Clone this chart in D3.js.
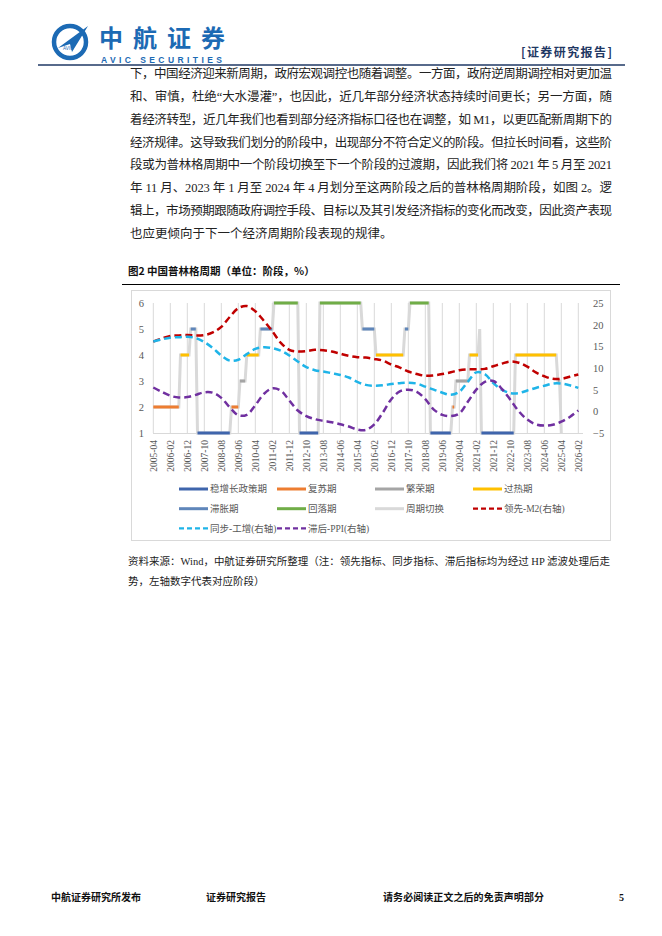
<!DOCTYPE html>
<html>
<head>
<meta charset="utf-8">
<script src="https://cdn.jsdelivr.net/npm/d3@7"></script>
<style>
  body { margin: 0; background: #fff; }
  svg { display: block; }
</style>
</head>
<body>
<script>
// ---- data ----
const xLabels = ["2005-04","2006-02","2006-12","2007-10","2008-08","2009-06","2010-04","2011-02",
  "2011-12","2012-10","2013-08","2014-06","2015-04","2016-02","2016-12","2017-10","2018-08",
  "2019-06","2020-04","2021-02","2021-12","2022-10","2023-08","2024-06","2025-04","2026-02"];

// phase runs: month where a phase starts, and the phase number (1..6)
const phaseStart = ["2005-04","2006-08","2007-02","2007-06","2009-02","2009-07","2009-11","2010-07",
  "2011-03","2012-06","2013-06","2015-07","2016-03","2017-08","2017-11","2018-11","2019-12",
  "2020-02","2020-10","2021-04","2021-05","2023-01","2025-02","2025-04"];
const phaseValue = [2,4,5,1,2,3,4,5,6,1,6,5,4,5,6,1,2,3,4,5,1,4,3,1];
const phaseLast = "2025-04";

// right-axis curves, read every 5 months from 2005-04
const m2 = [16.1,16.8,17.4,17.5,17.6,17.5,17.6,18.2,19.5,21.8,23.8,24.3,23.1,20.9,18.5,15.8,14.2,
  13.8,13.9,14.2,14.1,13.8,13.3,12.8,12.5,12.4,12.1,11.7,10.8,10.1,9.2,8.6,8.2,8.3,8.6,9.0,9.5,
  9.7,9.7,9.8,10.4,11.0,11.5,11.2,10.3,9.0,8.1,7.5,7.5,8.0,8.5];
const ip = [16.1,16.6,17.0,17.1,17.2,16.9,16.0,14.6,12.9,11.7,11.9,13.2,14.4,14.8,14.6,14.0,12.9,
  11.5,10.2,9.5,9.2,8.8,8.4,7.8,6.8,6.1,5.9,6.0,6.3,6.5,6.6,6.4,5.7,5.0,4.3,3.8,4.5,6.8,9.0,
  8.6,6.5,5.0,4.2,4.2,4.8,5.4,5.9,6.4,6.4,6.0,5.4];
const ppi = [5.5,4.5,3.6,3.2,3.3,3.8,4.4,4.3,3.1,0.9,-0.9,-0.8,1.4,4.0,5.3,4.8,2.5,0.2,-1.1,-1.8,
  -2.2,-2.5,-3.0,-3.5,-4.2,-4.3,-3.0,-0.3,2.8,4.6,5.0,4.5,2.8,0.4,-0.8,-1.1,-0.5,2.2,5.0,6.8,
  7.0,5.2,2.7,0.0,-1.9,-3.0,-3.3,-3.1,-2.4,-1.3,0.2];

const phaseNames = ["稳增长政策期","复苏期","繁荣期","过热期","滞胀期","回落期"];
const phaseColors = ["#3F65AC","#ED7D31","#A5A5A5","#FFC000","#5F86BA","#70AD47"];

const bodyLines = [
  "下，中国经济迎来新周期，政府宏观调控也随着调整。一方面，政府逆周期调控相对更加温",
  "和、审慎，杜绝“大水漫灌”，也因此，近几年部分经济状态持续时间更长；另一方面，随",
  "着经济转型，近几年我们也看到部分经济指标口径也在调整，如 M1，以更匹配新周期下的",
  "经济规律。这导致我们划分的阶段中，出现部分不符合定义的阶段。但拉长时间看，这些阶",
  "段或为普林格周期中一个阶段切换至下一个阶段的过渡期，因此我们将 2021 年 5 月至 2021",
  "年 11 月、2023 年 1 月至 2024 年 4 月划分至这两阶段之后的普林格周期阶段，如图 2。逻",
  "辑上，市场预期跟随政府调控手段、目标以及其引发经济指标的变化而改变，因此资产表现",
  "也应更倾向于下一个经济周期阶段表现的规律。"
];

const serif = "'Liberation Serif','Noto Sans CJK SC',serif";
const cjk = "'Noto Sans CJK SC',sans-serif";

let width = 662, height = 936;
let svg = d3.select("body").append("svg")
  .attr("width", width)
  .attr("height", height);

// ---- page header ----
let logo = svg.append("g");
logo.append("circle").attr("cx", 70).attr("cy", 42).attr("r", 16)
  .attr("fill", "none").attr("stroke", "#1C6AB4").attr("stroke-width", 4.5);
logo.append("path")
  .attr("d", "M58,48 L88,26 L72,52 L70,44 Z")
  .attr("fill", "#1C6AB4");
logo.append("text").attr("x", 63).attr("y", 50).attr("font-size", 4.5)
  .attr("font-family", "Liberation Sans").attr("fill", "#1C6AB4").text("AVIC");
svg.append("text").attr("x", 99).attr("y", 47)
  .attr("font-family", cjk).attr("font-weight", "bold").attr("font-size", 24)
  .attr("textLength", 126).attr("fill", "#1C6AB4").text("中航证券");
svg.append("text").attr("x", 101).attr("y", 63)
  .attr("font-family", "'Liberation Sans',sans-serif").attr("font-weight", "bold").attr("font-size", 8.5)
  .attr("textLength", 121).attr("fill", "#1C6AB4").text("AVIC SECURITIES");
svg.append("text").attr("x", 521).attr("y", 57)
  .attr("font-family", cjk).attr("font-weight", "bold").attr("font-size", 12)
  .attr("textLength", 91).attr("fill", "#1F3864").text("[证券研究报告]");
svg.append("line").attr("x1", 38).attr("x2", 625).attr("y1", 65).attr("y2", 65)
  .attr("stroke", "#1F3864").attr("stroke-width", 1.5);

// ---- body paragraph ----
svg.append("g").selectAll("text")
  .data(bodyLines)
  .enter()
  .append("text")
  .attr("x", 130)
  .attr("y", (d, i) => 78 + i * 22.86)
  .attr("font-family", serif)
  .attr("font-size", 12.5)
  .attr("fill", "#222")
  .attr("textLength", (d, i) => i < bodyLines.length - 1 ? 482 : null)
  .attr("lengthAdjust", "spacing")
  .text(d => d);

// ---- chart title ----
svg.append("text").attr("x", 128).attr("y", 275)
  .attr("font-family", cjk).attr("font-weight", "bold").attr("font-size", 10.5)
  .attr("fill", "#111").text("图2  中国普林格周期（单位：阶段，%）");
svg.append("line").attr("x1", 122).attr("x2", 620).attr("y1", 284.5).attr("y2", 284.5)
  .attr("stroke", "#000").attr("stroke-width", 1);

// chart frame
svg.append("rect").attr("x", 131.5).attr("y", 290.5).attr("width", 479).attr("height", 250)
  .attr("fill", "#fff").attr("stroke", "#D9D9D9").attr("stroke-width", 1);

// ---- scales ----
let fmt = d3.timeFormat("%Y-%m");
let months = d3.timeMonth.range(new Date(2005, 3, 1), new Date(2026, 2, 1)).map(fmt);

let x = d3.scalePoint().domain(months).range([153.3, 578.3]);
let yL = d3.scaleLinear().domain([1, 6]).range([433, 303]);
let yR = d3.scaleLinear().domain([-5, 25]).range([433, 303]);

// vertical gridlines at every label
svg.append("g").selectAll("line")
  .data(xLabels)
  .enter()
  .append("line")
  .attr("x1", d => x(d)).attr("x2", d => x(d))
  .attr("y1", 303).attr("y2", 433)
  .attr("stroke", "#D9D9D9").attr("stroke-width", 1);
svg.append("line").attr("x1", 153).attr("x2", 583).attr("y1", 433.5).attr("y2", 433.5)
  .attr("stroke", "#D9D9D9");

// axes
let axL = svg.append("g").attr("transform", "translate(153,0)")
  .call(d3.axisLeft(yL).ticks(6).tickSize(0).tickPadding(9));
let axR = svg.append("g").attr("transform", "translate(583,0)")
  .call(d3.axisRight(yR).tickValues(d3.range(-5, 26, 5)).tickSize(0).tickPadding(10));
let axB = svg.append("g").attr("transform", "translate(0,433)")
  .call(d3.axisBottom(x).tickValues(xLabels).tickSize(0));
[axL, axR, axB].forEach(a => {
  a.select(".domain").remove();
  a.selectAll("text").attr("font-family", serif).attr("fill", "#595959");
});
axL.selectAll("text").attr("font-size", 10.5);
axR.selectAll("text").attr("font-size", 10.5);
axB.selectAll("text")
  .attr("font-size", 9.5)
  .attr("transform", "rotate(-90)")
  .attr("text-anchor", "end")
  .attr("x", -7)
  .attr("y", 0)
  .attr("dy", "0.33em");

// ---- phase series ----
let phaseMonths = months.slice(0, months.indexOf(phaseLast) + 1);
let phase = phaseMonths.map(m => {
  let k = d3.bisectRight(phaseStart, m) - 1;
  return { m: m, v: phaseValue[k] };
});

// cycle switch line (under the coloured runs)
let stepLine = d3.line().x(d => x(d.m)).y(d => yL(d.v));
svg.append("path")
  .attr("d", stepLine(phase))
  .attr("fill", "none")
  .attr("stroke", "#D9D9D9")
  .attr("stroke-width", 3);

phaseNames.forEach((name, i) => {
  let p = i + 1;
  let runLine = d3.line().defined(d => d.v === p).x(d => x(d.m)).y(d => yL(d.v));
  svg.append("path")
    .attr("d", runLine(phase))
    .attr("fill", "none")
    .attr("stroke", phaseColors[i])
    .attr("stroke-width", 3.2);
});

// ---- right-axis curves ----
let curveMonths = months.filter((d, i) => i % 5 === 0);
let curves = [
  { name: "领先-M2(右轴)", values: m2, color: "#C00000" },
  { name: "同步-工增(右轴)", values: ip, color: "#1FB4E8" },
  { name: "滞后-PPI(右轴)", values: ppi, color: "#7030A0" }
];
let smooth = d3.line()
  .x((d, i) => x(curveMonths[i]))
  .y(d => yR(d))
  .curve(d3.curveCatmullRom);
curves.forEach(c => {
  svg.append("path")
    .attr("d", smooth(c.values))
    .attr("fill", "none")
    .attr("stroke", c.color)
    .attr("stroke-width", 2.5)
    .attr("stroke-dasharray", "7,4");
});

// ---- legend ----
let legendItems = phaseNames.map((n, i) => ({ name: n, color: phaseColors[i], dash: null, w: 3 }))
  .concat([{ name: "周期切换", color: "#D9D9D9", dash: null, w: 3 }])
  .concat(curves.map(c => ({ name: c.name, color: c.color, dash: "5,3", w: 2.2 })));
let leg = svg.append("g").selectAll("g")
  .data(legendItems)
  .enter()
  .append("g")
  .attr("transform", (d, i) => `translate(${179 + (i % 4) * 98},${489 + Math.floor(i / 4) * 19.7})`);
leg.append("line")
  .attr("x1", 0).attr("x2", 29)
  .attr("stroke", d => d.color)
  .attr("stroke-width", d => d.w)
  .attr("stroke-dasharray", d => d.dash);
leg.append("text")
  .attr("x", 31).attr("dy", "0.35em")
  .attr("font-family", serif).attr("font-size", 9.5).attr("fill", "#595959")
  .text(d => d.name);

// ---- source note ----
svg.append("text").attr("x", 128).attr("y", 565)
  .attr("font-family", serif).attr("font-size", 10.5).attr("fill", "#222")
  .attr("textLength", 482).attr("lengthAdjust", "spacing")
  .text("资料来源：Wind，中航证券研究所整理（注：领先指标、同步指标、滞后指标均为经过 HP 滤波处理后走");
svg.append("text").attr("x", 128).attr("y", 585)
  .attr("font-family", serif).attr("font-size", 10.5).attr("fill", "#222")
  .text("势，左轴数字代表对应阶段）");

// ---- footer ----
let footer = [
  { t: "中航证券研究所发布", x: 51, w: 90 },
  { t: "证券研究报告", x: 206, w: 60 },
  { t: "请务必阅读正文之后的免责声明部分", x: 383, w: 161 },
  { t: "5", x: 619, w: null }
];
svg.append("g").selectAll("text")
  .data(footer)
  .enter()
  .append("text")
  .attr("x", d => d.x).attr("y", 901)
  .attr("font-family", serif).attr("font-weight", "bold").attr("font-size", 10)
  .attr("fill", "#111")
  .attr("textLength", d => d.w)
  .text(d => d.t);
</script>
</body>
</html>
